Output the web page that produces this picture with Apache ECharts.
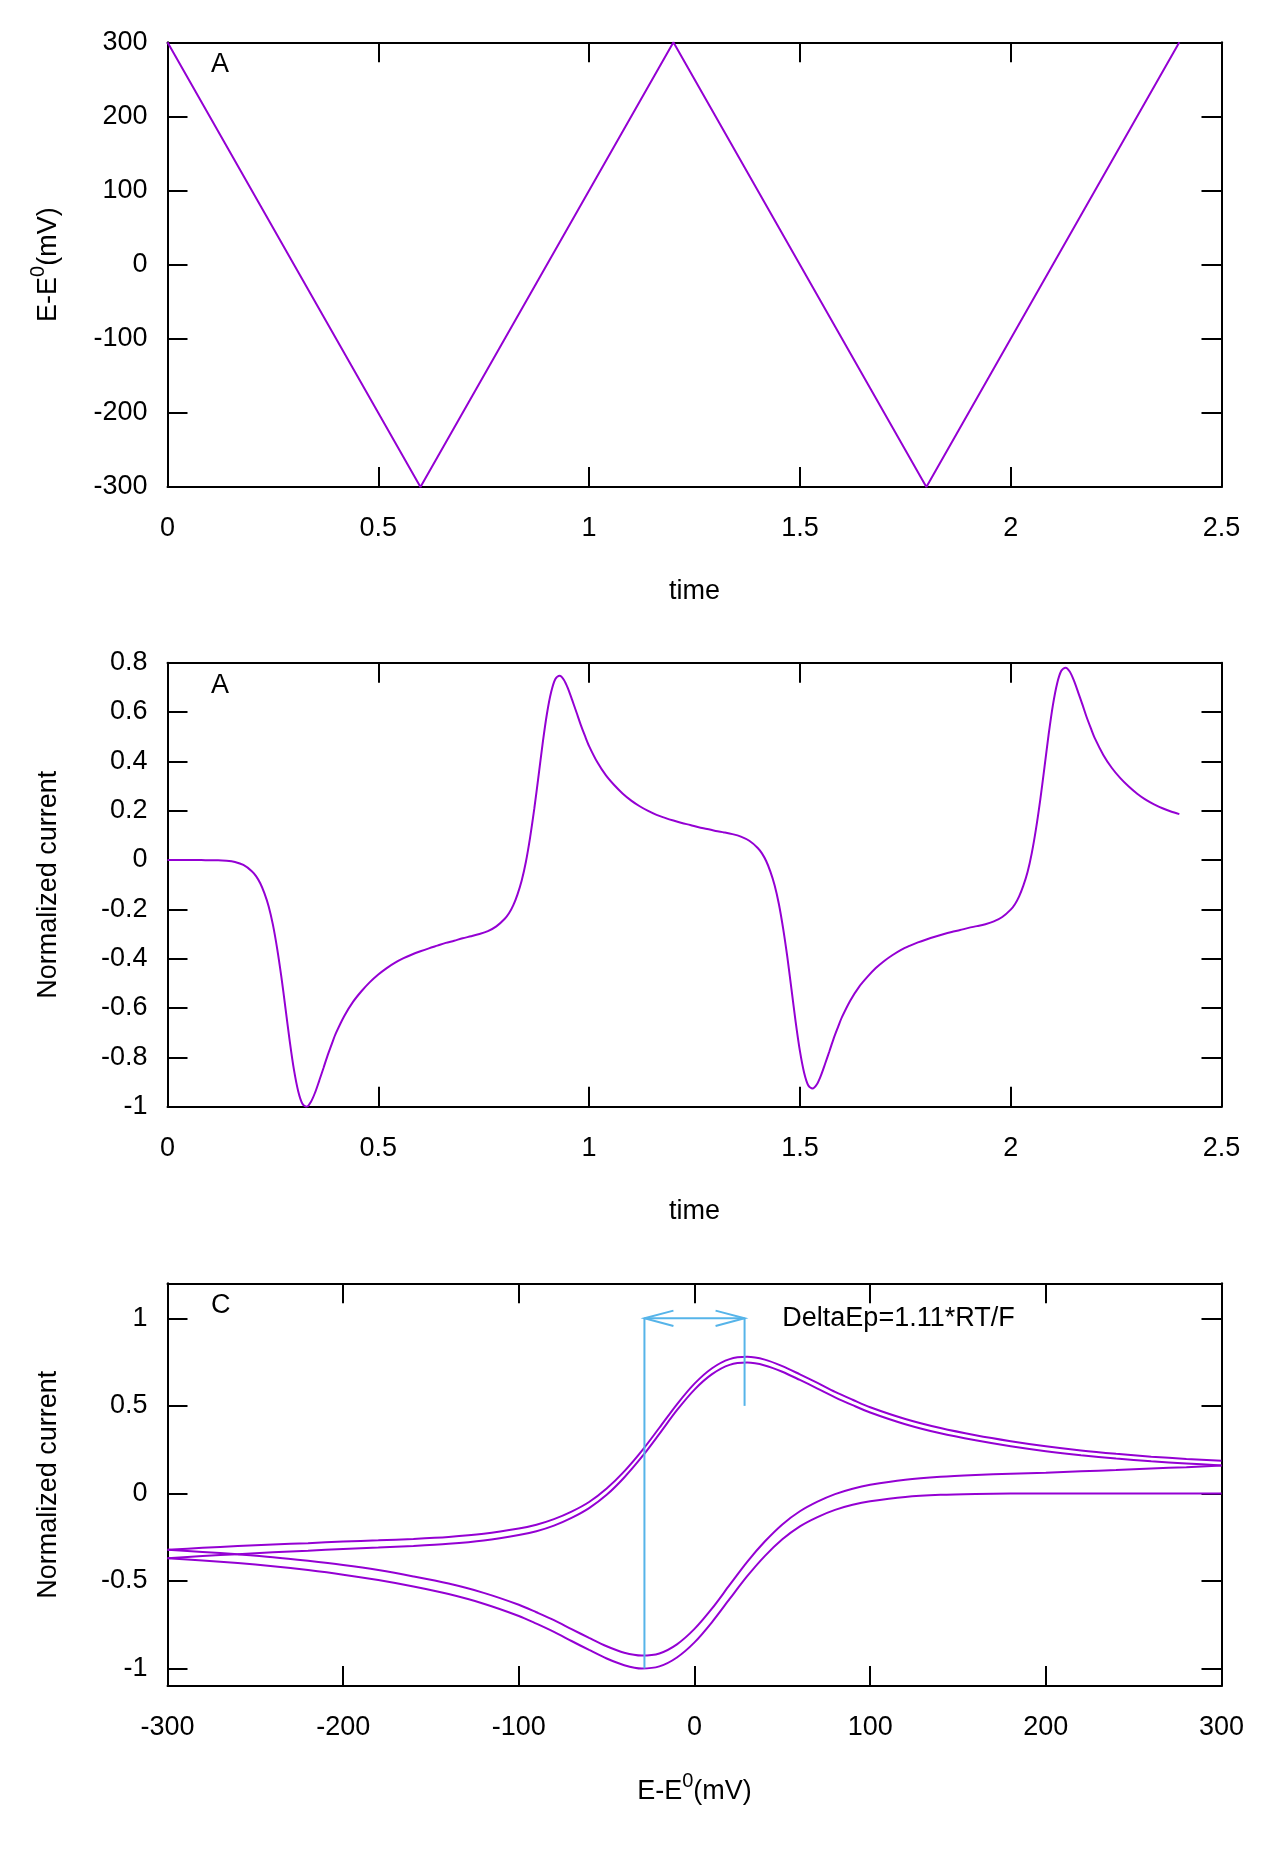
<!DOCTYPE html>
<html><head><meta charset="utf-8">
<script src="https://cdn.jsdelivr.net/npm/echarts@6/dist/echarts.min.js"></script>
<style>html,body{margin:0;padding:0;background:#fff}#c{width:1280px;height:1862px}</style>
</head><body><div id="c"></div>
<script>
// ---- data ----
const waveTimes = [0, 0.6, 1.2, 1.8, 2.4];
const wavePotentials = [300, -300, 300, -300, 300];

const potDown = [300,280,260,240,220,200,180,160,140,120,100,90,80,70,60,50,40,30,20,10,0,-10,-20,-30,-40,-50,-60,-70,-80,-90,-100,-120,-140,-160,-180,-200,-220,-240,-260,-280,-300];
const potUp = [-300,-280,-260,-240,-220,-200,-180,-160,-140,-120,-100,-90,-80,-70,-60,-50,-40,-30,-20,-10,0,10,20,30,40,50,60,70,80,90,100,120,140,160,180,200,220,240,260,280,300];
const sweepOffsets = [0,0.02,0.04,0.06,0.08,0.10,0.12,0.14,0.16,0.18,0.20,0.21,0.22,0.23,0.24,0.25,0.26,0.27,0.28,0.29,0.30,0.31,0.32,0.33,0.34,0.35,0.36,0.37,0.38,0.39,0.40,0.42,0.44,0.46,0.48,0.50,0.52,0.54,0.56,0.58,0.60];

const currSweep1 = [0,0,0,0,0,-0.001,-0.001,-0.003,-0.008,-0.020,-0.045,-0.065,-0.094,-0.135,-0.188,-0.262,-0.358,-0.473,-0.603,-0.735,-0.851,-0.937,-0.988,-1.000,-0.981,-0.943,-0.894,-0.843,-0.791,-0.744,-0.700,-0.630,-0.575,-0.532,-0.495,-0.464,-0.438,-0.416,-0.398,-0.383,-0.370];
const currSweep2 = [-0.370,-0.358,-0.347,-0.336,-0.327,-0.317,-0.309,-0.300,-0.288,-0.269,-0.238,-0.216,-0.184,-0.140,-0.084,-0.008,0.091,0.208,0.340,0.475,0.593,0.681,0.734,0.747,0.731,0.695,0.648,0.599,0.549,0.504,0.462,0.395,0.343,0.303,0.269,0.241,0.218,0.199,0.183,0.171,0.160];
const currSweep3 = [0.160,0.150,0.142,0.133,0.126,0.118,0.112,0.105,0.095,0.078,0.049,0.027,-0.004,-0.047,-0.102,-0.177,-0.275,-0.391,-0.523,-0.657,-0.774,-0.862,-0.914,-0.926,-0.910,-0.873,-0.825,-0.775,-0.724,-0.679,-0.636,-0.568,-0.515,-0.474,-0.438,-0.409,-0.385,-0.364,-0.348,-0.334,-0.322];
const currSweep4 = [-0.322,-0.311,-0.301,-0.292,-0.284,-0.275,-0.268,-0.260,-0.249,-0.231,-0.201,-0.179,-0.147,-0.104,-0.049,0.028,0.126,0.243,0.375,0.509,0.627,0.715,0.767,0.780,0.764,0.727,0.680,0.631,0.580,0.535,0.492,0.425,0.373,0.332,0.298,0.269,0.245,0.226,0.210,0.197,0.186];

const cvYTicks = [-1, -0.5, 0, 0.5, 1];
const panelLabels = ['A', 'A', 'C'];
const deltaEpX = [-28.5, 28.5];
const deltaEpY = [1, -1, 0.5];
const deltaLabel = 'DeltaEp=1.11*RT/F';
const deltaLabelAt = [50, 1];

// ---- build ----
const sweeps = [currSweep1, currSweep2, currSweep3, currSweep4];
const sweepPots = [potDown, potUp, potDown, potUp];

const timeline = [];
sweeps.forEach((cur, k) => {
  cur.forEach((v, i) => {
    if (k > 0 && i === 0) return;
    timeline.push([+(waveTimes[k] + sweepOffsets[i]).toFixed(3), v]);
  });
});

const FONT = 'Liberation Sans';
const FS = 27;
const PURPLE = '#9400d3';
const BLUE = '#56b4e9';
const grids = [
  {left: 167.5, top: 42.3, width: 1054, height: 444.7},
  {left: 167.5, top: 662.7, width: 1054, height: 444},
  {left: 167.5, top: 1283.3, width: 1054, height: 402.7}
];

function axLine() { return {show: true, onZero: false, lineStyle: {color: '#000', width: 2}}; }
function axTick(custom) {
  const t = {show: true, inside: true, length: 20, lineStyle: {color: '#000', width: 2}};
  if (custom) t.customValues = custom;
  return t;
}
function axLabel(show, margin, custom) {
  const l = {show: show, margin: margin, fontSize: FS, color: '#000', fontFamily: FONT};
  if (custom) l.customValues = custom;
  return l;
}
function xPair(g, min, max, interval) {
  const base = {type: 'value', gridIndex: g, min: min, max: max, interval: interval, splitLine: {show: false}, axisLine: axLine(), axisTick: axTick()};
  return [
    Object.assign({}, base, {position: 'bottom', axisLabel: axLabel(true, 28)}),
    Object.assign({}, base, {position: 'top', axisTick: axTick(), axisLabel: {show: false}})
  ];
}
function yPair(g, min, max, interval, custom) {
  const base = {type: 'value', gridIndex: g, min: min, max: max, splitLine: {show: false}, axisLine: axLine()};
  if (interval) base.interval = interval;
  return [
    Object.assign({}, base, {position: 'left', axisTick: axTick(custom), axisLabel: axLabel(true, 20, custom)}),
    Object.assign({}, base, {position: 'right', axisTick: axTick(custom), axisLabel: {show: false}})
  ];
}

const xAxes = [].concat(xPair(0, 0, 2.5, 0.5), xPair(1, 0, 2.5, 0.5), xPair(2, -300, 300, 100));
const yAxes = [].concat(yPair(0, -300, 300, 100), yPair(1, -1, 0.8, 0.2), yPair(2, -1.1, 1.2, null, cvYTicks));

const lineBase = {type: 'line', symbol: 'none', showSymbol: false, lineStyle: {color: PURPLE, width: 2}, itemStyle: {color: PURPLE}, clip: true, z: 3};

const series = [];
series.push(Object.assign({}, lineBase, {xAxisIndex: 0, yAxisIndex: 0, data: waveTimes.map((t, i) => [t, wavePotentials[i]])}));
series.push(Object.assign({}, lineBase, {xAxisIndex: 2, yAxisIndex: 2, smooth: 0.3, data: timeline}));
sweeps.forEach((cur, k) => {
  series.push(Object.assign({}, lineBase, {xAxisIndex: 4, yAxisIndex: 4, smooth: 0.3,
    data: cur.map((v, i) => [sweepPots[k][i], v])}));
});
series.push({
  type: 'custom', xAxisIndex: 4, yAxisIndex: 4, z: 10, clip: false,
  data: [[deltaEpX[0], deltaEpY[0]]],
  renderItem: function (params, api) {
    const pL = api.coord([deltaEpX[0], deltaEpY[0]]);
    const pR = api.coord([deltaEpX[1], deltaEpY[0]]);
    const pLb = api.coord([deltaEpX[0], deltaEpY[1]]);
    const pRb = api.coord([deltaEpX[1], deltaEpY[2]]);
    const tp = api.coord(deltaLabelAt);
    const st = {stroke: BLUE, lineWidth: 2, fill: null};
    const hx = 29, hy = 7.7;
    return {type: 'group', children: [
      {type: 'line', shape: {x1: pL[0], y1: pL[1], x2: pLb[0], y2: pLb[1]}, style: st},
      {type: 'line', shape: {x1: pR[0], y1: pR[1], x2: pRb[0], y2: pRb[1]}, style: st},
      {type: 'line', shape: {x1: pL[0], y1: pL[1], x2: pR[0], y2: pR[1]}, style: st},
      {type: 'polyline', shape: {points: [[pL[0] + hx, pL[1] - hy], [pL[0], pL[1]], [pL[0] + hx, pL[1] + hy]]}, style: st},
      {type: 'polyline', shape: {points: [[pR[0] - hx, pR[1] - hy], [pR[0], pR[1]], [pR[0] - hx, pR[1] + hy]]}, style: st},
      {type: 'text', x: tp[0], y: tp[1], style: {text: deltaLabel, fill: '#000', font: FS + 'px "' + FONT + '"', align: 'left', verticalAlign: 'middle'}}
    ]};
  }
});

function txt(x, y, text, align, rot) {
  return {type: 'text', x: x, y: y, rotation: rot || 0, z: 20,
    style: {text: text, fill: '#000', font: FS + 'px "' + FONT + '"', align: align, verticalAlign: 'middle'}};
}
const supRich = {
  n: {fontSize: FS, fontFamily: FONT, fill: '#000', color: '#000', verticalAlign: 'middle'},
  s: {fontSize: 20, fontFamily: FONT, fill: '#000', color: '#000', verticalAlign: 'middle', padding: [0, 0, 20, 0]}
};
function richTxt(x, y, rot) {
  return {type: 'text', x: x, y: y, rotation: rot || 0, z: 20,
    style: {text: '{n|E-E}{s|0}{n|(mV)}', rich: supRich, fill: '#000', font: FS + 'px "' + FONT + '"', align: 'center', verticalAlign: 'middle'}};
}
const cx = 167.5 + 527;
const graphic = [
  txt(211, 64.7, panelLabels[0], 'left'),
  txt(211, 685.1, panelLabels[1], 'left'),
  txt(211, 1305.7, panelLabels[2], 'left'),
  txt(cx, 592, 'time', 'center'),
  txt(cx, 1211.7, 'time', 'center'),
  richTxt(cx, 1791.3, 0),
  richTxt(48.8, 264.6, Math.PI / 2),
  txt(48.8, 884.7, 'Normalized current', 'center', Math.PI / 2),
  txt(48.8, 1484.7, 'Normalized current', 'center', Math.PI / 2)
];

const chart = echarts.init(document.getElementById('c'), null, {renderer: 'canvas'});
chart.setOption({
  animation: false,
  backgroundColor: '#fff',
  textStyle: {fontFamily: FONT},
  grid: grids.map(g => Object.assign({containLabel: false, outerBoundsMode: 'none', show: false}, g)),
  xAxis: xAxes,
  yAxis: yAxes,
  series: series,
  graphic: graphic
});
</script>
</body></html>
